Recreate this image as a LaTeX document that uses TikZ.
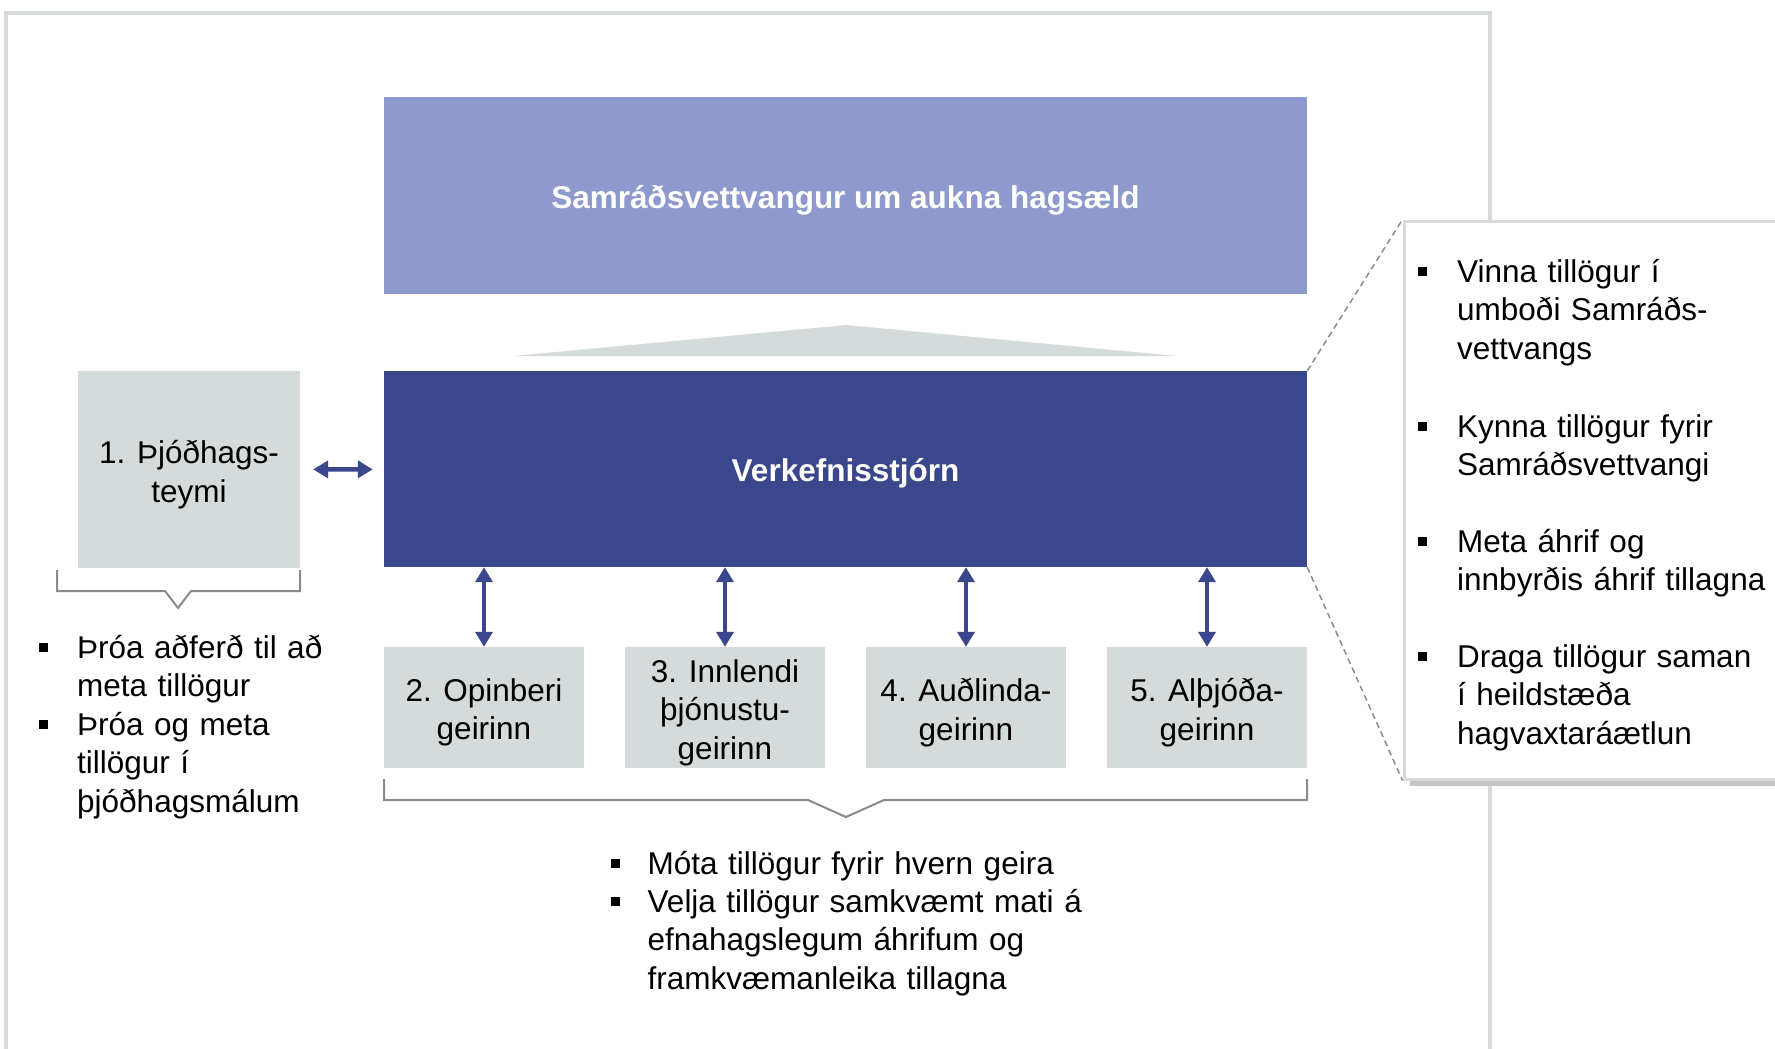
\documentclass[tikz,border=0pt]{standalone}
\usepackage{fontspec}
\setmainfont{Liberation Sans}
\usetikzlibrary{arrows.meta}
\definecolor{lightblue}{HTML}{8E9ACD}
\definecolor{navy}{HTML}{3A478C}
\definecolor{boxgray}{HTML}{D5DBDB}
\definecolor{framegray}{HTML}{D6DBDA}
\definecolor{brkgray}{HTML}{8A8A8A}
\definecolor{dashgray}{HTML}{8C8C8C}
\definecolor{shadowgray}{HTML}{C4C4C4}
\tikzset{
  txt/.style={font=\fontsize{31.5}{38.5}\selectfont},
  btxt/.style={font=\bfseries\fontsize{31.5}{38.5}\selectfont},
  lbl/.style={txt, align=center, inner sep=0pt, yshift=-5pt},
  blbl/.style={btxt, text=white, inner sep=0pt, yshift=-4.5pt},
  gbox/.style={fill=boxgray, draw=none, minimum width=200pt, minimum height=121pt, inner sep=0pt},
  bigbox/.style={draw=none, minimum width=923pt, minimum height=197pt, inner sep=0pt},
  dbl/.style={{Triangle[length=15pt,width=17pt]}-{Triangle[length=15pt,width=17pt]}, navy, line width=4.5pt},
  brk/.style={brkgray, line width=2pt},
  bul/.style={fill=black, minimum size=9pt, inner sep=0pt},
  itemtxt/.style={txt, anchor=base west, inner sep=0pt, text width=440pt, align=left},
  dashln/.style={dashgray, line width=1.5pt, dash pattern=on 6pt off 4pt},
}
\begin{document}
\begin{tikzpicture}[x=1pt, y=-1pt]
\useasboundingbox (0,0) rectangle (1775,1049);
% outer frame
\draw[framegray, line width=3.5pt] (6,1065) -- (6,13) -- (1490,13) -- (1490,1065);

% top box
\node[bigbox, fill=lightblue, label={[blbl]center:Samráðsvettvangur um aukna hagsæld}] (samr) at (845.5,195.5) {};
% triangle
\fill[boxgray] (513,356) -- (846,325) -- (1177,356) -- cycle;
% steering committee
\node[bigbox, fill=navy, minimum height=196pt, label={[blbl]center:Verkefnisstjórn}] (verk) at (845.5,469) {};
% box 1
\node[gbox, minimum width=222pt, minimum height=197pt, label={[lbl]center:{1. Þjóðhags-\\teymi}}] (b1) at (189,469.5) {};
% sector boxes
\node[gbox, label={[lbl]center:{2. Opinberi\\geirinn}}] (s2) at (484,707.5) {};
\node[gbox, label={[lbl]center:{3. Innlendi\\þjónustu-\\geirinn}}] (s3) at (725,707.5) {};
\node[gbox, label={[lbl]center:{4. Auðlinda-\\geirinn}}] (s4) at (966,707.5) {};
\node[gbox, label={[lbl]center:{5. Alþjóða-\\geirinn}}] (s5) at (1207,707.5) {};

% arrows
\draw[dbl, shorten <=13pt, shorten >=11pt] (b1) -- (verk);
\draw[dbl] (s2.north |- verk.south) -- (s2.north);
\draw[dbl] (s3.north |- verk.south) -- (s3.north);
\draw[dbl] (s4.north |- verk.south) -- (s4.north);
\draw[dbl] (s5.north |- verk.south) -- (s5.north);

% brackets
\draw[brk] (57,570) -- (57,591) -- (165,591) -- (178,608) -- (191,591) -- (300,591) -- (300,570);
\draw[brk] (384,779) -- (384,800) -- (808,800) -- (846,817) -- (884,800) -- (1307,800) -- (1307,779);

% left bullets
\node[bul] (lb1) at (43,647) {};
\node[itemtxt] (lt1) at (77,658) {Þróa aðferð til að\\meta tillögur};
\node[bul] (lb2) at (43,724) {};
\node[itemtxt] (lt2) at (77,735) {Þróa og meta\\tillögur í\\þjóðhagsmálum};

% bottom bullets
\node[bul] (bb1) at (615,863) {};
\node[itemtxt] (bt1) at (647.5,874) {Móta tillögur fyrir hvern geira};
\node[bul] (bb2) at (615,901) {};
\node[itemtxt] (bt2) at (647.5,912) {Velja tillögur samkvæmt mati á\\efnahagslegum áhrifum og\\framkvæmanleika tillagna};

% callout
\fill[shadowgray] (1410,227) rectangle (1790,786);
\node[fill=white, draw=framegray, line width=3pt, minimum width=381pt, minimum height=558pt, inner sep=0pt] (call) at (1594.5,500) {};
\draw[dashln] (verk.north east) -- (call.north west);
\draw[dashln] (verk.south east) -- (call.south west);

\node[bul] (rb1) at (1422,271) {};
\node[itemtxt] (rt1) at (1457,282) {Vinna tillögur í\\umboði Samráðs-\\vettvangs};
\node[bul] (rb2) at (1422,426) {};
\node[itemtxt] (rt2) at (1457,437) {Kynna tillögur fyrir\\Samráðsvettvangi};
\node[bul] (rb3) at (1422,541) {};
\node[itemtxt] (rt3) at (1457,552) {Meta áhrif og\\innbyrðis áhrif tillagna};
\node[bul] (rb4) at (1422,656) {};
\node[itemtxt] (rt4) at (1457,667) {Draga tillögur saman\\í heildstæða\\hagvaxtaráætlun};
\end{tikzpicture}
\end{document}
